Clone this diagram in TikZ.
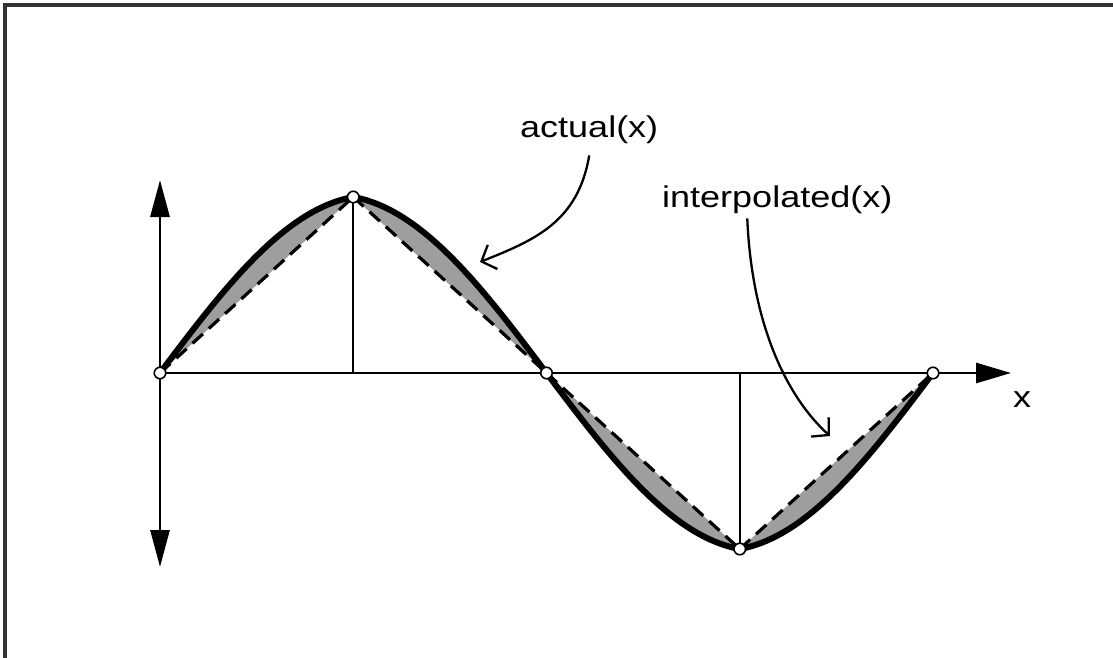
\documentclass[tikz,border=0pt]{standalone}
\usepackage{fontspec}
\setmainfont{Liberation Sans}
\usetikzlibrary{arrows.meta}
\begin{document}
\begin{tikzpicture}[x=1pt,y=-1pt,
  dot/.style={circle,draw=black,fill=white,line width=1.6pt,inner sep=0pt,minimum size=11.5pt},
  lbl/.style={inner sep=0pt,font=\fontsize{30}{36}\selectfont},
  chord/.style={line width=3.2pt,dash pattern=on 14pt off 8pt},
  areafill/.style={fill=black!38},
  curve/.style={line width=6pt,line join=round,line cap=round},
  axisline/.style={line width=2.9pt},
  drop/.style={line width=2pt},
  callout/.style={line width=2.3pt,-{Straight Barb[length=12pt,width=26pt,line width=2.3pt]}},
  frameline/.style={line width=3.2pt,black!80},
  declare function={wx(\t)=160+2.147222*\t; wy(\t)=373-176*(0.8*sin(\t)+0.2*asin(sin(\t))/90);}
]
\useasboundingbox (0,0) rectangle (1113,658);
\draw[frameline] (5,670) -- (5,5) -- (1125,5);

\coordinate (p0) at (160,373);
\coordinate (p1) at (353.25,197);
\coordinate (p2) at (546.5,373);
\coordinate (p3) at (739.75,549);
\coordinate (p4) at (933,373);
\coordinate (ytop) at (160,180);
\coordinate (ybot) at (160,567);
\coordinate (xend) at (1011,373);

% shaded areas between curve and chords
\foreach \a/\b in {0/90,90/180,180/270,270/360}{
  \fill[areafill] plot[domain=\a:\b,samples=40,smooth] ({wx(\x)},{wy(\x)}) -- cycle;
}

% axes
\draw[axisline,{Triangle[length=37pt,width=19pt]}-{Triangle[length=37pt,width=19pt]}] (ytop) -- (ybot);
\draw[axisline,-{Triangle[length=35pt,width=20pt]}] (p0) -- (xend);

% drop lines
\draw[drop] (p1) -- (p1 |- p0);
\draw[drop] (p3) -- (p3 |- p0);

% chords (interpolated)
\draw[chord] (p0) -- (p1);
\draw[chord] (p1) -- (p2);
\draw[chord] (p2) -- (p3);
\draw[chord] (p3) -- (p4);

% actual curve
\draw[curve] plot[domain=0:360,samples=121,smooth] ({wx(\x)},{wy(\x)});

% sample points
\foreach \p in {p0,p1,p2,p3,p4}{
  \node[dot] (d\p) at (\p) {};
}

% labels
\node[lbl,anchor=base west] (actual) at (520,138) {\scalebox{1.2}[1]{actual(x)}};
\node[lbl,anchor=base west] (interp) at (662,207) {\scalebox{1.2}[1]{interpolated(x)}};
\node[lbl,anchor=base west] (xlab) at (1013,407) {\scalebox{1.2}[1]{x}};

\coordinate (atip) at (480,262);
\coordinate (itip) at (830,436);
\draw[callout] ([yshift=-11pt]actual.south) .. controls (578,222) and (535,240) .. (atip);
\draw[callout] ([xshift=-30pt,yshift=-5pt]interp.south) .. controls (752,330) and (790,400) .. (itip);
\end{tikzpicture}
\end{document}
